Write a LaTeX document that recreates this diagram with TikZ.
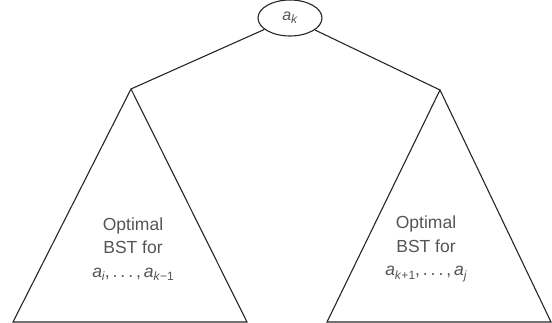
\documentclass[tikz,border=0pt]{standalone}
\usepackage{fontspec}
\setmainfont{Liberation Sans}
\usetikzlibrary{shapes.geometric}

\definecolor{txtgray}{RGB}{85,85,85}
\newcommand{\ital}[1]{\textit{#1}}
\newcommand{\sub}[1]{\raisebox{-0.35ex}{\fontsize{12}{12}\selectfont #1}}

\begin{document}
\begin{tikzpicture}[x=1pt, y=1pt, line width=1.1pt, color=black!85,
    label/.style={align=center, text=txtgray, font=\fontsize{17.5}{23.5}\selectfont}]
    \useasboundingbox (0, 0) rectangle (552, 323);

    % Root
    \node[ellipse, draw, minimum width=64pt, minimum height=36pt, inner sep=0pt,
          text=txtgray, font=\fontsize{16}{18}\selectfont] (root) at (290, 305)
          {\ital{a}\sub{\ital{k}}};

    % Subtree apexes
    \coordinate (ltop) at (131, 234);
    \coordinate (rtop) at (440, 233);

    % Edges to subtrees
    \draw (root) -- (ltop);
    \draw (root) -- (rtop);

    % Subtrees
    \draw (ltop) -- (13, 1) -- (247, 1) -- cycle;
    \draw (rtop) -- (327, 1) -- (551, 1) -- cycle;

    % Labels
    \node[label] (lbl) at (133, 74)
        {Optimal\\BST for\\\ital{a}\sub{\ital{i}},\,.\,.\,.\,,\,\ital{a}\sub{\ital{k}−1}};
    \node[label] (rbl) at (426, 74)
        {Optimal\\BST for\\\ital{a}\sub{\ital{k}+1},\,.\,.\,.\,,\,\ital{a}\sub{\ital{j}}};
\end{tikzpicture}
\end{document}
